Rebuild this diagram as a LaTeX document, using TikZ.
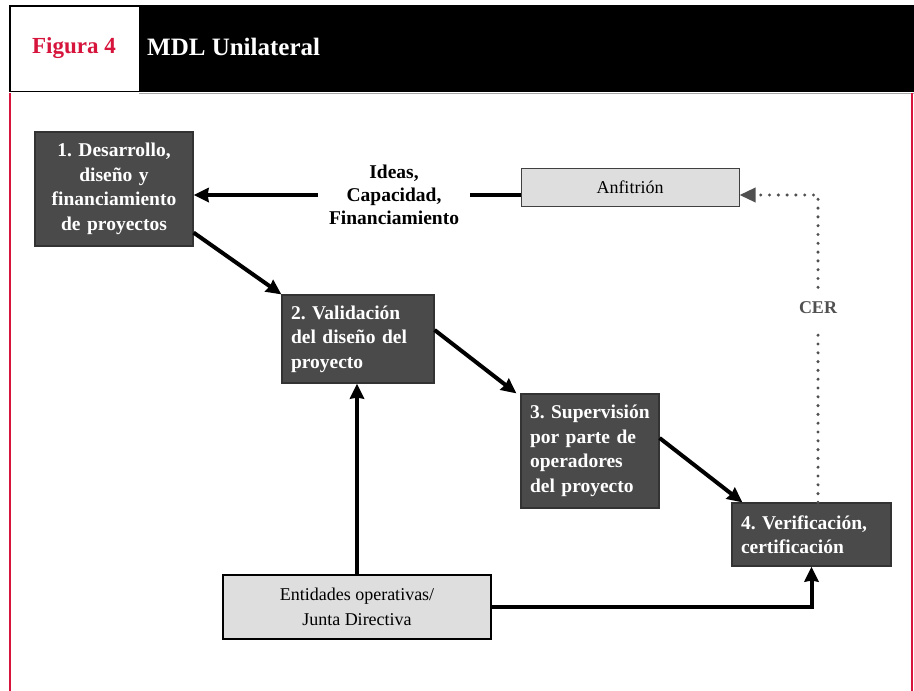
\documentclass[tikz,border=0pt]{standalone}
\usepackage{fontspec}
\setmainfont{Liberation Serif}
\usetikzlibrary{arrows.meta,positioning}
\definecolor{figred}{RGB}{214,20,60}
\definecolor{boxgray}{RGB}{74,74,74}
\definecolor{lightbox}{RGB}{222,222,222}
\definecolor{dotgray}{RGB}{80,80,80}
\frenchspacing

\begin{document}
\begin{tikzpicture}[x=1pt,y=-1pt,
    dark/.style={draw=black!80, line width=1.2pt, fill=boxgray, text=white, inner xsep=9pt, inner ysep=0pt,
        font=\bfseries\fontsize{19.5}{24.5}\selectfont},
    light/.style={draw=black, fill=lightbox, inner sep=0pt, align=center, font=\fontsize{18}{25}\selectfont},
    flow/.style={line width=4pt, -{Stealth[length=15pt,width=14pt,inset=1pt]}},
    dots/.style={draw=dotgray, line width=3.4pt, line cap=round, dash pattern=on 0pt off 8.8pt}]
\useasboundingbox (0,0) rectangle (914,691);

\fill (9,5) rectangle (914,92);
\fill[white] (11,7) rectangle (139,91);
\draw[black!35, line width=1pt] (139,93) -- (914,93);
\draw[figred, line width=2.5pt] (10,93) -- (10,691);
\draw[figred, line width=2pt] (912,93) -- (912,691);
\node[text=figred, font=\bfseries\fontsize{23}{26}\selectfont] (fig) at (74,48) {Figura 4};
\node[text=white, anchor=west, inner sep=0pt, font=\bfseries\fontsize{25}{28}\selectfont] (title) at (147,47) {MDL Unilateral};

\node[dark, text width=140pt, minimum height=114pt, align=center] (b1) at (114,189)
    {1. Desarrollo,\\ diseño y\\ financiamiento\\ de proyectos};
\node[dark, text width=134pt, minimum height=88pt, align=left] (b2) at (358,339)
    {2. Validación\\ del diseño del\\ proyecto};
\node[dark, text width=120pt, minimum height=114pt, align=left] (b3) at (590,451)
    {3. Supervisión\\ por parte de\\ operadores\\ del proyecto};
\node[dark, text width=141pt, minimum height=63pt, align=left] (b4) at (811.5,534.5)
    {4. Verificación,\\ certificación};
\node[light, line width=1pt, draw=black!75, minimum width=218pt, minimum height=38pt] (anf) at (630,187) {Anfitrión};
\node[light, line width=2.4pt, minimum width=268pt, minimum height=64pt] (ent) at (357,607)
    {Entidades operativas/\\ Junta Directiva};
\node[align=center, inner xsep=11pt, font=\bfseries\fontsize{19.5}{23}\selectfont] (ideas) at (394,195)
    {Ideas,\\ Capacidad,\\ Financiamiento};
\node[text=dotgray, inner sep=0pt, minimum height=41pt, font=\bfseries\fontsize{18}{20}\selectfont] (cer) at (818,308) {CER};

\draw[flow] (ideas.west) -- (ideas.west -| b1.east);
\draw[line width=4pt] (ideas.east) -- (ideas.east -| anf.west);
\draw[flow] ([yshift=14pt]b1.south east) -- (b2.north west);
\draw[flow] ([yshift=9pt]b2.east) -- ([xshift=-4pt]b3.north west);
\draw[flow] ([yshift=13pt]b3.east) -- ([xshift=11pt]b4.north west);
\draw[flow] (ent.north) -- (ent.north |- b2.south);
\draw[flow] (ent.east) -| (b4.south);
\draw[dots] (cer |- b4.north) -- (cer.south);
\draw[dots, -{Stealth[length=16pt,width=14pt,inset=0pt,fill=dotgray]}] (cer.north) |- ([yshift=-8pt]anf.east);
\end{tikzpicture}
\end{document}
